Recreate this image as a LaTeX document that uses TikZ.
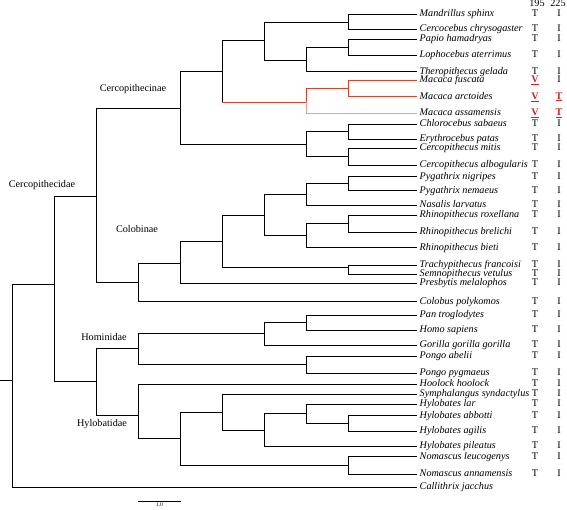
\documentclass[tikz,border=0pt]{standalone}
\usepackage{fontspec}
\setmainfont{Liberation Serif}
\usepackage{xcolor}
\usepackage{tikz}
\usetikzlibrary{positioning,calc}
\definecolor{macred}{RGB}{222,62,42}
\definecolor{macpink}{RGB}{236,160,145}
\definecolor{subred}{RGB}{212,32,28}
\tikzset{
  branch/.style={line width=0.8pt},
  leaf/.style={anchor=west, inner xsep=2.5pt, inner ysep=0pt, font=\fontsize{10.2}{12}\selectfont\itshape, text height=5pt, text depth=0pt},
  site/.style={inner sep=0pt, font=\fontsize{10.2}{12}\selectfont, text height=5pt, text depth=0pt},
  clade/.style={font=\fontsize{10.2}{12}\selectfont},
  subst/.style={site, text=subred, font=\fontsize{10.2}{12}\selectfont\bfseries}
}

\begin{document}
\begin{tikzpicture}[x=1pt,y=-1pt]
    \useasboundingbox (0,0) rectangle (567,510);

    % Internal nodes
    \coordinate (stub) at (0,380);
    \coordinate (root) at (12,380);
    \coordinate (catar) at (54,284);
    \coordinate (cerc) at (96,196);
    \coordinate (cercinae) at (180,108);
    \coordinate (papini) at (222,71);
    \coordinate (mcp) at (264,40.5);
    \coordinate (mandcer) at (348,22);
    \coordinate (papther) at (306,60);
    \coordinate (paplop) at (348,47);
    \coordinate (macaca) at (306,102);
    \coordinate (macfa) at (348,88.3);
    \coordinate (cercini) at (306,144);
    \coordinate (chlery) at (348,131.7);
    \coordinate (cercop) at (348,156.7);
    \coordinate (colob) at (138,282);
    \coordinate (colA) at (180,263);
    \coordinate (colB) at (222,241);
    \coordinate (colC) at (264,215);
    \coordinate (pygnas) at (306,194.3);
    \coordinate (pygath) at (348,183.7);
    \coordinate (rhino) at (306,235.7);
    \coordinate (rhirb) at (348,223.7);
    \coordinate (trasem) at (348,267);
    \coordinate (homoid) at (96,381);
    \coordinate (hominid) at (138,348);
    \coordinate (hpg) at (264,333.5);
    \coordinate (panhomo) at (306,322.5);
    \coordinate (pongo) at (306,364.5);
    \coordinate (hylob) at (138,415);
    \coordinate (hylA) at (180,438.5);
    \coordinate (hylB) at (222,412.5);
    \coordinate (hylC) at (264,430.3);
    \coordinate (hylD) at (306,413);
    \coordinate (hylab) at (348,423.3);
    \coordinate (nomas) at (348,465);

    % Taxa
    \node[leaf] (msph) at (417,14.3) {Mandrillus sphinx};
    \node[leaf] (cchr) at (417,29.3) {Cercocebus chrysogaster};
    \node[leaf] (pham) at (417,39.3) {Papio hamadryas};
    \node[leaf] (later) at (417,55) {Lophocebus aterrimus};
    \node[leaf] (tgel) at (417,71.7) {Theropithecus gelada};
    \node[leaf] (mfus) at (417,80) {Macaca fuscata};
    \node[leaf] (marc) at (417,96.7) {Macaca arctoides};
    \node[leaf] (mass) at (417,113) {Macaca assamensis};
    \node[leaf] (csab) at (417,124) {Chlorocebus sabaeus};
    \node[leaf] (epat) at (417,139.3) {Erythrocebus patas};
    \node[leaf] (cmit) at (417,148.3) {Cercopithecus mitis};
    \node[leaf] (calb) at (417,165) {Cercopithecus albogularis};
    \node[leaf] (pnig) at (417,176.7) {Pygathrix nigripes};
    \node[leaf] (pnem) at (417,190.7) {Pygathrix nemaeus};
    \node[leaf] (nlar) at (417,205) {Nasalis larvatus};
    \node[leaf] (rrox) at (417,215) {Rhinopithecus roxellana};
    \node[leaf] (rbre) at (417,232.3) {Rhinopithecus brelichi};
    \node[leaf] (rbie) at (417,247.7) {Rhinopithecus bieti};
    \node[leaf] (tfra) at (417,265) {Trachypithecus francoisi};
    \node[leaf] (svet) at (417,274) {Semnopithecus vetulus};
    \node[leaf] (pmel) at (417,283.3) {Presbytis melalophos};
    \node[leaf] (cpol) at (417,301.7) {Colobus polykomos};
    \node[leaf] (ptro) at (417,315) {Pan troglodytes};
    \node[leaf] (hsap) at (417,330) {Homo sapiens};
    \node[leaf] (ggor) at (417,345) {Gorilla gorilla gorilla};
    \node[leaf] (pabe) at (417,356) {Pongo abelii};
    \node[leaf] (ppyg) at (417,373.3) {Pongo pygmaeus};
    \node[leaf] (hhoo) at (417,384.3) {Hoolock hoolock};
    \node[leaf] (ssyn) at (417,394.3) {Symphalangus syndactylus};
    \node[leaf] (hlar) at (417,404.3) {Hylobates lar};
    \node[leaf] (habb) at (417,415.7) {Hylobates abbotti};
    \node[leaf] (hagi) at (417,431) {Hylobates agilis};
    \node[leaf] (hpil) at (417,446) {Hylobates pileatus};
    \node[leaf] (nleu) at (417,456.7) {Nomascus leucogenys};
    \node[leaf] (nann) at (417,474) {Nomascus annamensis};
    \node[leaf] (cjac) at (417,487.3) {Callithrix jacchus};

    % Branches
    \draw[branch] (stub) -- (root);
    \foreach \p/\c in {root/catar, catar/cerc, catar/homoid, cerc/cercinae, cerc/colob,
        cercinae/papini, cercinae/cercini, papini/mcp, mcp/mandcer, mcp/papther, papther/paplop,
        cercini/chlery, cercini/cercop, colob/colA, colA/colB, colB/colC, colB/trasem,
        colC/pygnas, colC/rhino, pygnas/pygath, rhino/rhirb, homoid/hominid, homoid/hylob,
        hominid/hpg, hominid/pongo, hpg/panhomo, hylob/hylA, hylA/hylB, hylA/nomas,
        hylB/hylC, hylC/hylD, hylD/hylab}
        \draw[branch] (\p) |- (\c);
    \foreach \p/\c in {root/cjac, mandcer/msph, mandcer/cchr, paplop/pham, paplop/later,
        papther/tgel, chlery/csab, chlery/epat, cercop/cmit, cercop/calb, pygath/pnig,
        pygath/pnem, pygnas/nlar, rhirb/rrox, rhirb/rbre, rhino/rbie, trasem/tfra,
        trasem/svet, colA/pmel, colob/cpol, panhomo/ptro, panhomo/hsap, hpg/ggor,
        pongo/pabe, pongo/ppyg, hylob/hhoo, hylB/ssyn, hylD/hlar, hylab/habb, hylab/hagi,
        hylC/hpil, nomas/nleu, nomas/nann}
        \draw[branch] (\p) |- (\c);

    % Macaca clade
    \draw[branch] (papini) -- (papini |- macaca);
    \draw[branch, macred] (papini |- macaca) -- (macaca);
    \draw[branch, macred] (macaca) |- (macfa);
    \draw[branch, macred] (macfa) |- (mfus);
    \draw[branch, macred] (macfa) |- (marc);
    \draw[branch, macpink] (macaca) |- (mass);

    % Clade labels
    \node[clade] (lcercidae) at (42,185) {Cercopithecidae};
    \node[clade] (lcercinae) at (133,89) {Cercopithecinae};
    \node[clade] (lcolob) at (137,229) {Colobinae};
    \node[clade] (lhominid) at (104,337) {Hominidae};
    \node[clade] (lhylob) at (102,424) {Hylobatidae};

    % Sites 195 and 225
    \coordinate (c195) at (535,0);
    \coordinate (c225) at (559,0);
    \node[site] (h195) at (537,4.5) {195};
    \node[site] (h225) at (558,4.5) {225};
    \foreach \t in {msph,cchr,pham,later,tgel,csab,epat,cmit,calb,pnig,pnem,nlar,rrox,
        rbre,rbie,tfra,svet,pmel,cpol,ptro,hsap,ggor,pabe,ppyg,hhoo,ssyn,hlar,habb,hagi,
        hpil,nleu,nann}
        \node[site] at (c195 |- \t) {T};
    \foreach \t in {msph,cchr,pham,later,tgel,mfus,csab,epat,cmit,calb,pnig,pnem,nlar,rrox,
        rbre,rbie,tfra,svet,pmel,cpol,ptro,hsap,ggor,pabe,ppyg,hhoo,ssyn,hlar,habb,hagi,
        hpil,nleu,nann}
        \node[site] at (c225 |- \t) {I};
    \foreach \t in {mfus,marc,mass}
        \node[subst] at (c195 |- \t) {\underline{V}};
    \foreach \t in {marc,mass}
        \node[subst] at (c225 |- \t) {\underline{T}};

    % Scale bar
    \coordinate (sb0) at (138,501.5);
    \coordinate (sb1) at (181,501.5);
    \draw[line width=0.6pt] (sb0) -- node[below=1pt, inner sep=0pt, font=\fontsize{5.5}{6}\selectfont] (sblab) {1.0} (sb1);

\end{tikzpicture}
\end{document}
